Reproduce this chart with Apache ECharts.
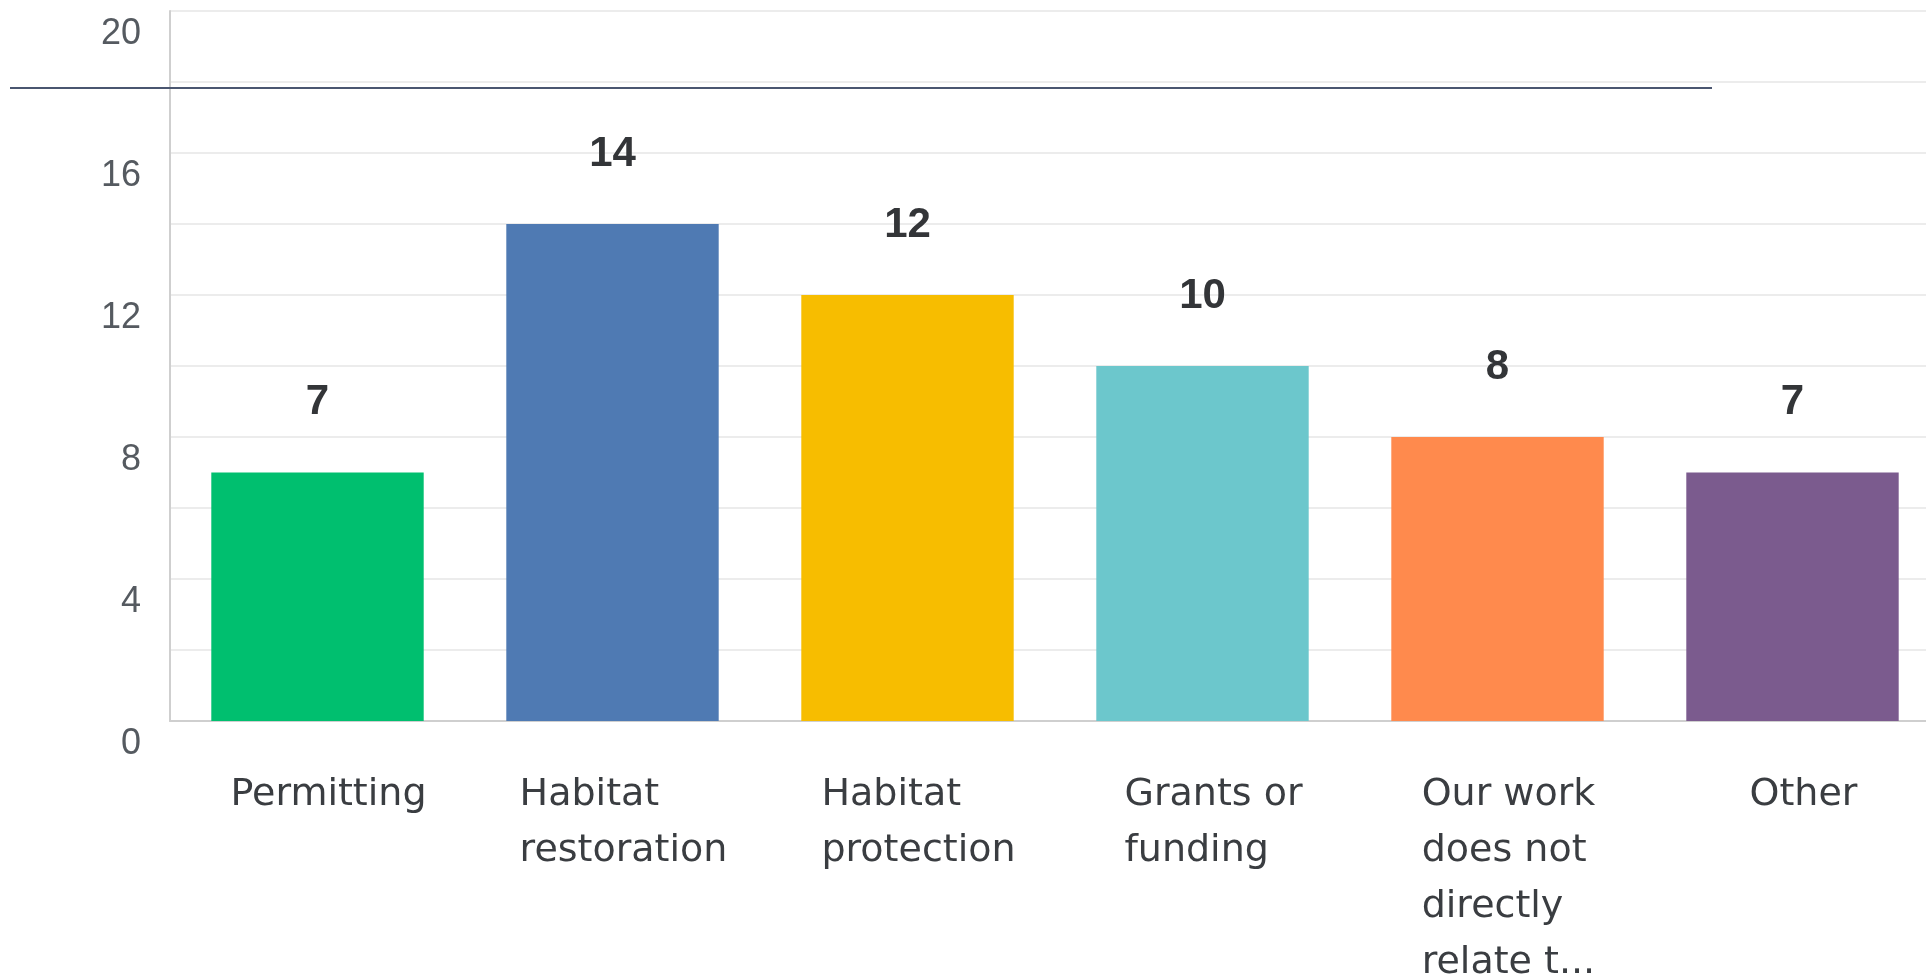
<!DOCTYPE html>
<html>
<head>
<meta charset="utf-8">
<title>Bar chart</title>
<script src="https://cdn.jsdelivr.net/npm/echarts@6/dist/echarts.min.js"></script>
<style>
  html, body { margin: 0; padding: 0; background: #ffffff; }
  #chart { width: 1926px; height: 980px; }
</style>
</head>
<body>
<div id="chart"></div>
<script>
// Response categories (line breaks mark how each axis label wraps)
const categories = [
  'Permitting',
  'Habitat\nrestoration',
  'Habitat\nprotection',
  'Grants or\nfunding',
  'Our work\ndoes not\ndirectly\nrelate t...',
  'Other'
];

// Number of responses per category
const responses = [7, 14, 12, 10, 8, 7];

// Bar colours, one per category
const barColors = ['#00bf6f', '#4f7ab3', '#f7bd00', '#6cc7cc', '#ff8a4d', '#7b5b8e'];

// Value axis range and step
const yMin = 0;
const yMax = 20;
const yStep = 2;
const yLabelStep = 4;

const chart = echarts.init(document.getElementById('chart'), null, { renderer: 'canvas' });

const option = {
  backgroundColor: '#ffffff',
  animation: false,
  grid: {
    left: 170,
    top: 11,
    width: 1770,
    height: 710,
    containLabel: false,
    outerBoundsMode: 'none'
  },
  xAxis: {
    type: 'category',
    data: categories,
    axisLine: { show: true, lineStyle: { color: '#cfcfcf', width: 2 } },
    axisTick: { show: false },
    splitLine: { show: false },
    axisLabel: {
      interval: 0,
      margin: 46,
      color: '#3a3d41',
      fontFamily: 'DejaVu Sans',
      fontSize: 38,
      lineHeight: 56,
      padding: [0, 0, 0, 22],
      formatter: function (value) {
        return value.split('\n').map(function (line) { return '{t|' + line + '}'; }).join('\n');
      },
      rich: {
        t: {
          align: 'left',
          color: '#3a3d41',
          fontFamily: 'DejaVu Sans',
          fontSize: 38,
          lineHeight: 56
        }
      }
    }
  },
  yAxis: {
    type: 'value',
    min: yMin,
    max: yMax,
    interval: yStep,
    axisLine: { show: true, lineStyle: { color: '#cfcfcf', width: 2 } },
    axisTick: { show: false },
    splitLine: { show: true, lineStyle: { color: '#ececec', width: 2 } },
    axisLabel: {
      margin: 29,
      color: '#555a60',
      fontFamily: 'Liberation Sans',
      fontSize: 36,
      verticalAlign: 'top',
      lineHeight: 46,
      formatter: function (v) { return v % yLabelStep === 0 ? String(v) : ''; }
    }
  },
  series: [{
    type: 'bar',
    data: responses.map(function (v, i) {
      return { value: v, itemStyle: { color: barColors[i] } };
    }),
    barCategoryGap: '28%',
    label: {
      show: true,
      position: 'top',
      distance: 49,
      color: '#333538',
      fontFamily: 'Liberation Sans',
      fontWeight: 'bold',
      fontSize: 42,
      lineHeight: 42
    }
  }],
  graphic: [{
    type: 'line',
    silent: true,
    shape: { x1: 10, y1: 88, x2: 1712, y2: 88 },
    style: { stroke: '#4a5670', lineWidth: 2 },
    z: 100
  }]
};

chart.setOption(option);
</script>
</body>
</html>
